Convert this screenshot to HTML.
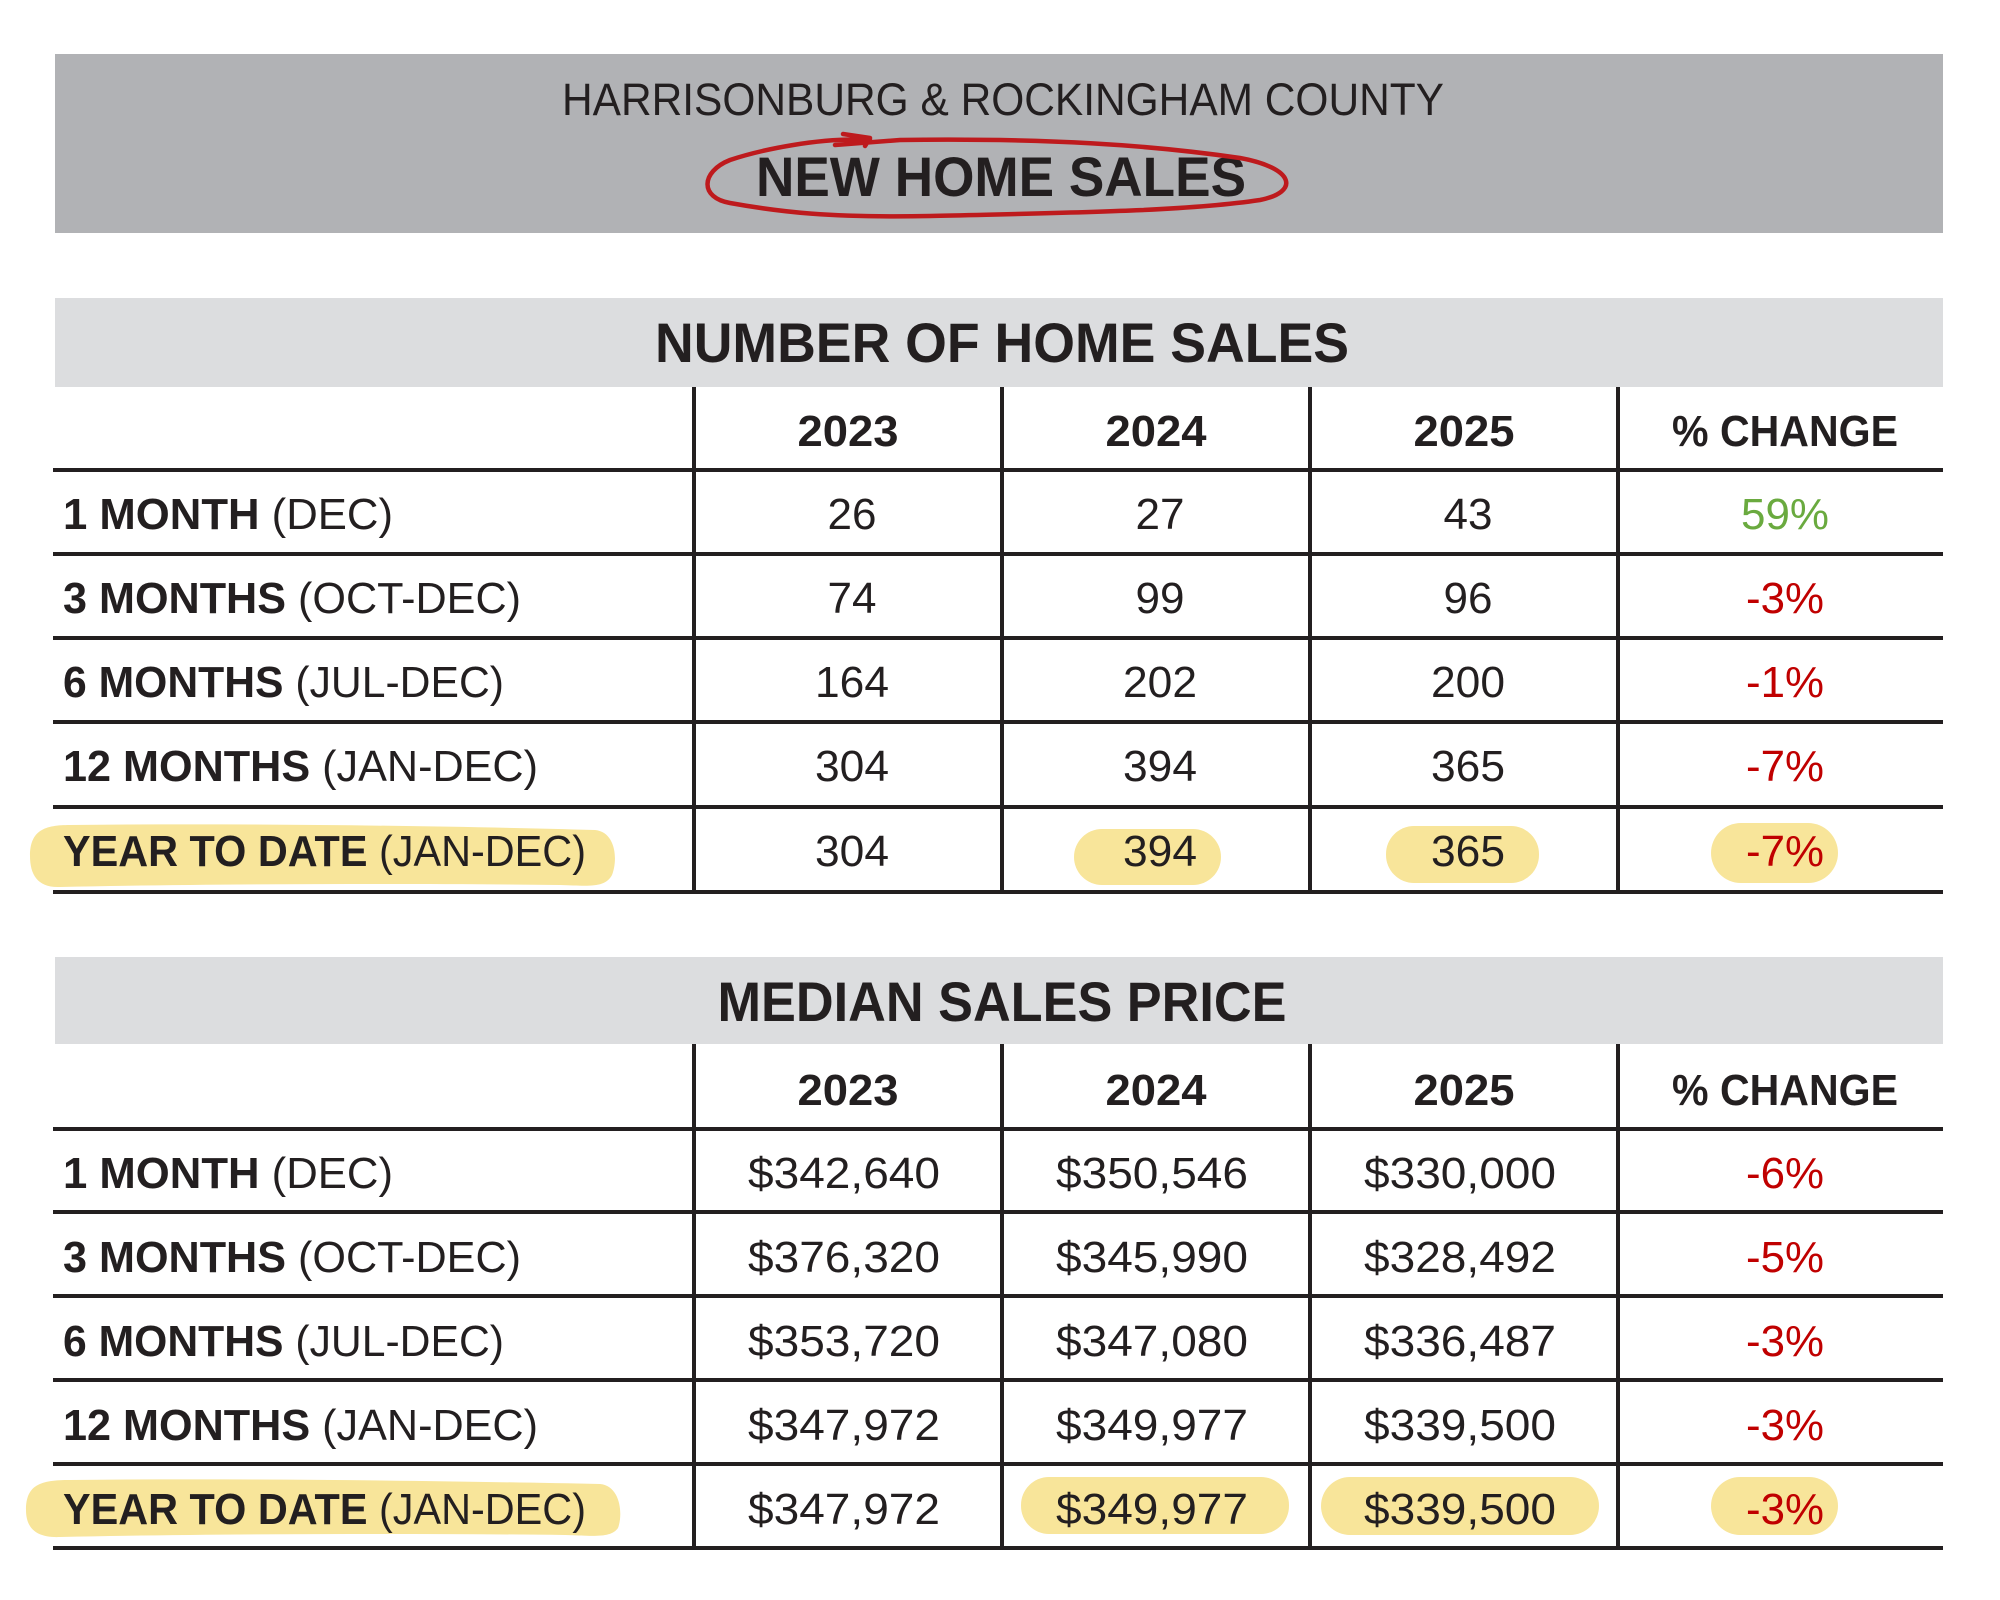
<!DOCTYPE html>
<html><head><meta charset="utf-8"><style>
html,body{margin:0;padding:0;background:#fff;}
svg{display:block;}
text{font-family:"Liberation Sans",sans-serif;fill:#231f20;}
.b{font-weight:bold;}
</style></head><body>
<svg width="2000" height="1600" viewBox="0 0 2000 1600" xmlns="http://www.w3.org/2000/svg">
<rect x="0" y="0" width="2000" height="1600" fill="#fff"/>
<rect x="55" y="54" width="1888" height="179" fill="#b1b2b5"/>
<text x="1003" y="115" font-size="45" text-anchor="middle" textLength="882" lengthAdjust="spacingAndGlyphs">HARRISONBURG &amp; ROCKINGHAM COUNTY</text>
<text class="b" x="1001" y="196" font-size="56" text-anchor="middle" textLength="490" lengthAdjust="spacingAndGlyphs">NEW HOME SALES</text>
<path d="M870,140 C820,137 760,150 730,160 C700,172 700,198 730,203 C780,212 830,218 930,216 C1050,213 1180,212 1260,200 C1300,192 1295,168 1240,158 C1150,145 1050,138 900,140 L835,145 M843,134 L870,138 L865,146" fill="none" stroke="#be1a1d" stroke-width="4.5" stroke-linecap="round" stroke-linejoin="round"/>

<g fill="#f8e59a">
<path d="M30,856 C30,830 45,825 70,825 C250,823 450,826 595,830 C616,832 618,860 612,875 C605,888 590,886 560,885 C400,883 200,884 60,887 C38,888 30,875 30,856Z"/>
<rect x="1074" y="829" width="147" height="56" rx="28"/>
<rect x="1386" y="826" width="153" height="57" rx="28"/>
<rect x="1711" y="823" width="127" height="60" rx="30"/>
<path d="M26,1510 C26,1485 40,1480 70,1480 C250,1478 450,1481 600,1484 C621,1486 623,1515 618,1528 C611,1538 595,1536 565,1535 C400,1533 200,1534 60,1537 C36,1538 26,1528 26,1510Z"/>
<rect x="1021" y="1477" width="268" height="57" rx="28"/>
<rect x="1321" y="1477" width="278" height="58" rx="29"/>
<rect x="1711" y="1477" width="127" height="58" rx="29"/>
</g>

<rect x="55" y="298" width="1888" height="89" fill="#dcdddf"/>
<text class="b" x="1002" y="362" font-size="56" text-anchor="middle" textLength="694" lengthAdjust="spacingAndGlyphs">NUMBER OF HOME SALES</text>
<g stroke="#231f20" stroke-width="4">
<line x1="53" y1="470" x2="1943" y2="470"/>
<line x1="53" y1="554" x2="1943" y2="554"/>
<line x1="53" y1="638" x2="1943" y2="638"/>
<line x1="53" y1="722" x2="1943" y2="722"/>
<line x1="53" y1="807" x2="1943" y2="807"/>
<line x1="53" y1="892" x2="1943" y2="892"/>
<line x1="694" y1="387" x2="694" y2="894"/>
<line x1="1002" y1="387" x2="1002" y2="894"/>
<line x1="1310" y1="387" x2="1310" y2="894"/>
<line x1="1618" y1="387" x2="1618" y2="894"/>
</g>
<g font-size="44" text-anchor="middle">
<text class="b" x="848" y="446" textLength="101" lengthAdjust="spacingAndGlyphs">2023</text>
<text class="b" x="1156" y="446" textLength="101" lengthAdjust="spacingAndGlyphs">2024</text>
<text class="b" x="1464" y="446" textLength="101" lengthAdjust="spacingAndGlyphs">2025</text>
<text class="b" x="1785" y="446" textLength="226" lengthAdjust="spacingAndGlyphs">% CHANGE</text>
<text x="852" y="529" textLength="49" lengthAdjust="spacingAndGlyphs">26</text>
<text x="1160" y="529" textLength="49" lengthAdjust="spacingAndGlyphs">27</text>
<text x="1468" y="529" textLength="49" lengthAdjust="spacingAndGlyphs">43</text>
<text x="1785" y="529" textLength="88" lengthAdjust="spacingAndGlyphs" style="fill:#6aaa3f">59%</text>
<text x="852" y="613" textLength="49" lengthAdjust="spacingAndGlyphs">74</text>
<text x="1160" y="613" textLength="49" lengthAdjust="spacingAndGlyphs">99</text>
<text x="1468" y="613" textLength="49" lengthAdjust="spacingAndGlyphs">96</text>
<text x="1785" y="613" textLength="78" lengthAdjust="spacingAndGlyphs" style="fill:#c00000">-3%</text>
<text x="852" y="697" textLength="74" lengthAdjust="spacingAndGlyphs">164</text>
<text x="1160" y="697" textLength="74" lengthAdjust="spacingAndGlyphs">202</text>
<text x="1468" y="697" textLength="74" lengthAdjust="spacingAndGlyphs">200</text>
<text x="1785" y="697" textLength="78" lengthAdjust="spacingAndGlyphs" style="fill:#c00000">-1%</text>
<text x="852" y="781" textLength="74" lengthAdjust="spacingAndGlyphs">304</text>
<text x="1160" y="781" textLength="74" lengthAdjust="spacingAndGlyphs">394</text>
<text x="1468" y="781" textLength="74" lengthAdjust="spacingAndGlyphs">365</text>
<text x="1785" y="781" textLength="78" lengthAdjust="spacingAndGlyphs" style="fill:#c00000">-7%</text>
<text x="852" y="866" textLength="74" lengthAdjust="spacingAndGlyphs">304</text>
<text x="1160" y="866" textLength="74" lengthAdjust="spacingAndGlyphs">394</text>
<text x="1468" y="866" textLength="74" lengthAdjust="spacingAndGlyphs">365</text>
<text x="1785" y="866" textLength="78" lengthAdjust="spacingAndGlyphs" style="fill:#c00000">-7%</text>
</g>
<g font-size="44">
<text x="63" y="529" textLength="330" lengthAdjust="spacingAndGlyphs"><tspan class="b">1 MONTH</tspan> (DEC)</text>
<text x="63" y="613" textLength="458" lengthAdjust="spacingAndGlyphs"><tspan class="b">3 MONTHS</tspan> (OCT-DEC)</text>
<text x="63" y="697" textLength="441" lengthAdjust="spacingAndGlyphs"><tspan class="b">6 MONTHS</tspan> (JUL-DEC)</text>
<text x="63" y="781" textLength="475" lengthAdjust="spacingAndGlyphs"><tspan class="b">12 MONTHS</tspan> (JAN-DEC)</text>
<text x="63" y="866" textLength="523" lengthAdjust="spacingAndGlyphs"><tspan class="b">YEAR TO DATE</tspan> (JAN-DEC)</text>
</g>

<rect x="55" y="957" width="1888" height="87" fill="#dcdddf"/>
<text class="b" x="1002" y="1021" font-size="56" text-anchor="middle" textLength="569" lengthAdjust="spacingAndGlyphs">MEDIAN SALES PRICE</text>
<g stroke="#231f20" stroke-width="4">
<line x1="53" y1="1129" x2="1943" y2="1129"/>
<line x1="53" y1="1212" x2="1943" y2="1212"/>
<line x1="53" y1="1296" x2="1943" y2="1296"/>
<line x1="53" y1="1380" x2="1943" y2="1380"/>
<line x1="53" y1="1464" x2="1943" y2="1464"/>
<line x1="53" y1="1548" x2="1943" y2="1548"/>
<line x1="694" y1="1044" x2="694" y2="1550"/>
<line x1="1002" y1="1044" x2="1002" y2="1550"/>
<line x1="1310" y1="1044" x2="1310" y2="1550"/>
<line x1="1618" y1="1044" x2="1618" y2="1550"/>
</g>
<g font-size="44" text-anchor="middle">
<text class="b" x="848" y="1105" textLength="101" lengthAdjust="spacingAndGlyphs">2023</text>
<text class="b" x="1156" y="1105" textLength="101" lengthAdjust="spacingAndGlyphs">2024</text>
<text class="b" x="1464" y="1105" textLength="101" lengthAdjust="spacingAndGlyphs">2025</text>
<text class="b" x="1785" y="1105" textLength="226" lengthAdjust="spacingAndGlyphs">% CHANGE</text>
<text x="844" y="1188" textLength="192" lengthAdjust="spacingAndGlyphs">$342,640</text>
<text x="1152" y="1188" textLength="192" lengthAdjust="spacingAndGlyphs">$350,546</text>
<text x="1460" y="1188" textLength="192" lengthAdjust="spacingAndGlyphs">$330,000</text>
<text x="1785" y="1188" textLength="78" lengthAdjust="spacingAndGlyphs" style="fill:#c00000">-6%</text>
<text x="844" y="1272" textLength="192" lengthAdjust="spacingAndGlyphs">$376,320</text>
<text x="1152" y="1272" textLength="192" lengthAdjust="spacingAndGlyphs">$345,990</text>
<text x="1460" y="1272" textLength="192" lengthAdjust="spacingAndGlyphs">$328,492</text>
<text x="1785" y="1272" textLength="78" lengthAdjust="spacingAndGlyphs" style="fill:#c00000">-5%</text>
<text x="844" y="1356" textLength="192" lengthAdjust="spacingAndGlyphs">$353,720</text>
<text x="1152" y="1356" textLength="192" lengthAdjust="spacingAndGlyphs">$347,080</text>
<text x="1460" y="1356" textLength="192" lengthAdjust="spacingAndGlyphs">$336,487</text>
<text x="1785" y="1356" textLength="78" lengthAdjust="spacingAndGlyphs" style="fill:#c00000">-3%</text>
<text x="844" y="1440" textLength="192" lengthAdjust="spacingAndGlyphs">$347,972</text>
<text x="1152" y="1440" textLength="192" lengthAdjust="spacingAndGlyphs">$349,977</text>
<text x="1460" y="1440" textLength="192" lengthAdjust="spacingAndGlyphs">$339,500</text>
<text x="1785" y="1440" textLength="78" lengthAdjust="spacingAndGlyphs" style="fill:#c00000">-3%</text>
<text x="844" y="1524" textLength="192" lengthAdjust="spacingAndGlyphs">$347,972</text>
<text x="1152" y="1524" textLength="192" lengthAdjust="spacingAndGlyphs">$349,977</text>
<text x="1460" y="1524" textLength="192" lengthAdjust="spacingAndGlyphs">$339,500</text>
<text x="1785" y="1524" textLength="78" lengthAdjust="spacingAndGlyphs" style="fill:#c00000">-3%</text>
</g>
<g font-size="44">
<text x="63" y="1188" textLength="330" lengthAdjust="spacingAndGlyphs"><tspan class="b">1 MONTH</tspan> (DEC)</text>
<text x="63" y="1272" textLength="458" lengthAdjust="spacingAndGlyphs"><tspan class="b">3 MONTHS</tspan> (OCT-DEC)</text>
<text x="63" y="1356" textLength="441" lengthAdjust="spacingAndGlyphs"><tspan class="b">6 MONTHS</tspan> (JUL-DEC)</text>
<text x="63" y="1440" textLength="475" lengthAdjust="spacingAndGlyphs"><tspan class="b">12 MONTHS</tspan> (JAN-DEC)</text>
<text x="63" y="1524" textLength="523" lengthAdjust="spacingAndGlyphs"><tspan class="b">YEAR TO DATE</tspan> (JAN-DEC)</text>
</g>
</svg>
</body></html>
